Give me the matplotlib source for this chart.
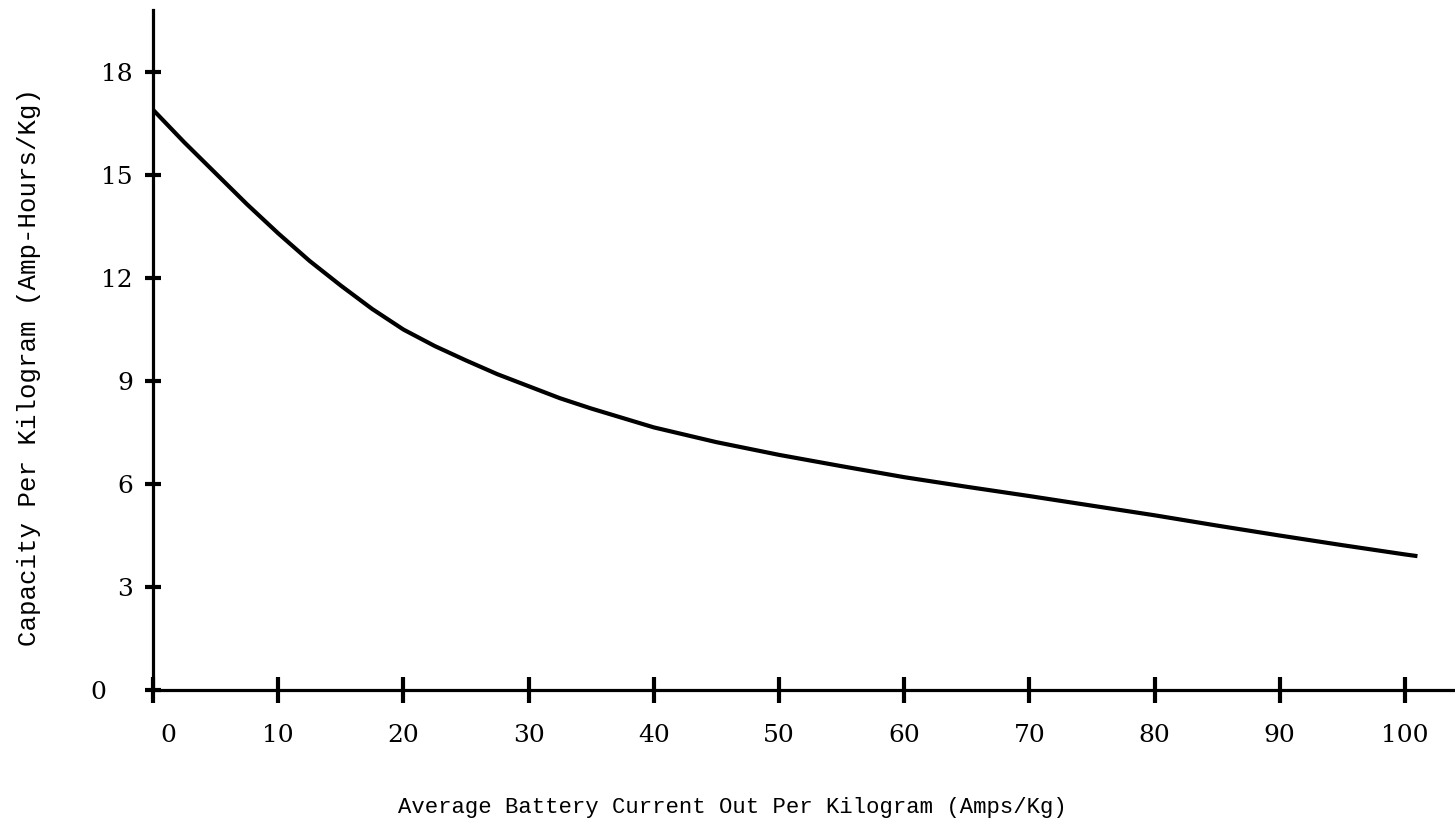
import matplotlib
matplotlib.use('Agg')
import matplotlib.pyplot as plt
from matplotlib.transforms import ScaledTranslation

# Значення
current = [0, 2.5, 5, 7.5, 10, 12.5, 15, 17.5, 20, 22.5, 25, 27.5, 30, 32.5, 35, 40, 45, 50,
           55, 60, 65, 70, 75, 80, 85, 90, 95, 100, 101]
capacity = [16.9, 15.95, 15.05, 14.15, 13.3, 12.5, 11.78, 11.1, 10.5, 10.02, 9.6, 9.2, 8.85,
            8.5, 8.2, 7.65, 7.22, 6.85, 6.52, 6.2, 5.92, 5.65, 5.37, 5.09, 4.79, 4.5, 4.22,
            3.95, 3.9]

x_ticks = [0, 10, 20, 30, 40, 50, 60, 70, 80, 90, 100]
y_ticks = [0, 3, 6, 9, 12, 15, 18]

x_label = 'Average Battery Current Out Per Kilogram (Amps/Kg)'
y_label = 'Capacity Per Kilogram (Amp-Hours/Kg)'

fig = plt.figure(figsize=(14.55, 8.26), dpi=100)
ax = fig.add_axes([0.1052, 0.1646, 0.8948, 0.823])

ax.plot(current, capacity, color='black', linewidth=3.0,
        solid_capstyle='butt', solid_joinstyle='round')

ax.set_xlim(0, 104)
ax.set_ylim(0, 19.8)

for side in ['top', 'right']:
    ax.spines[side].set_visible(False)
for side in ['left', 'bottom']:
    ax.spines[side].set_linewidth(2.3)
    ax.spines[side].set_color('black')

ax.set_xticks(x_ticks)
ax.set_yticks(y_ticks)
ax.set_xticklabels([str(v) for v in x_ticks], fontfamily='DejaVu Serif', fontsize=18)
ax.set_yticklabels([str(v) for v in y_ticks], fontfamily='DejaVu Serif', fontsize=18)
ax.tick_params(axis='x', direction='inout', length=19, width=3, pad=15)
ax.tick_params(axis='y', direction='inout', length=11, width=3, pad=9)

ax.set_xlabel(x_label, fontfamily='Liberation Mono', fontsize=16)
ax.set_ylabel(y_label, fontfamily='Liberation Mono', fontsize=18.5)
ax.xaxis.set_label_coords(0.445, -0.158)
ax.yaxis.set_label_coords(-0.086, 0.475)

# "0" на обох осях стоїть трохи осторонь
lab = ax.yaxis.get_major_ticks()[0].label1
lab.set_transform(lab.get_transform() + ScaledTranslation(-0.27, 0, fig.dpi_scale_trans))
lab = ax.xaxis.get_major_ticks()[0].label1
lab.set_transform(lab.get_transform() + ScaledTranslation(0.15, 0, fig.dpi_scale_trans))

plt.savefig('out.png', dpi=100)
